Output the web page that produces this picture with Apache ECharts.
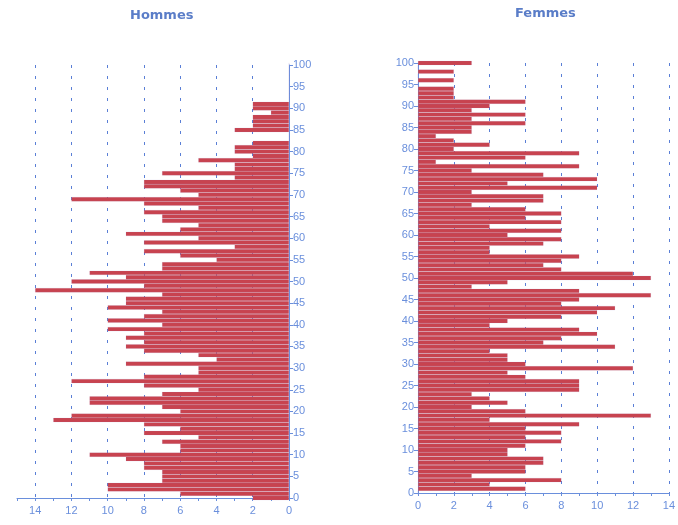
<!DOCTYPE html>
<html><head><meta charset="utf-8">
<script src="https://cdn.jsdelivr.net/npm/echarts@6/dist/echarts.min.js"></script>
<style>html,body{margin:0;padding:0;background:#fff}#c{width:678px;height:525px}</style>
</head><body><div id="c"></div>
<script>
// Age categories 0..100
const ages = Array.from({length: 101}, (_, i) => String(i));

// Hommes, ages 0..100
const hommes = [
  2, 6, 10, 10, 7, 7, 7, 8, 8, 9,
  11, 6, 6, 7, 5, 8, 6, 8, 13, 12,
  6, 7, 11, 11, 7, 5, 8, 12, 8, 5,
  5, 9, 4, 5, 8, 9, 8, 9, 8, 10,
  7, 10, 8, 7, 10, 9, 9, 7, 14, 8,
  12, 9, 11, 7, 7, 4, 6, 8, 3, 8,
  5, 9, 6, 5, 7, 7, 8, 5, 8, 12,
  5, 6, 8, 8, 3, 7, 3, 3, 5, 2,
  3, 3, 2, 0, 0, 3, 2, 2, 2, 1,
  2, 2, 0, 0, 0, 0, 0, 0, 0, 0,
  0
];

// Femmes, ages 0..100
const femmes = [
  0, 6, 4, 8, 3, 6, 6, 7, 7, 5,
  5, 6, 8, 6, 8, 6, 9, 4, 13, 6,
  3, 5, 4, 3, 9, 9, 9, 6, 5, 12,
  6, 5, 5, 4, 11, 7, 8, 10, 9, 4,
  5, 8, 10, 11, 8, 9, 13, 9, 3, 5,
  13, 12, 8, 7, 8, 9, 4, 4, 7, 8,
  5, 8, 4, 8, 6, 8, 6, 3, 7, 7,
  3, 10, 5, 10, 7, 3, 9, 1, 6, 9,
  2, 4, 2, 1, 3, 3, 6, 3, 6, 3,
  4, 6, 2, 2, 2, 0, 2, 0, 2, 0,
  3
];

const titles = ['Hommes', 'Femmes'];

const blue = '#6a8fdc';
const barColor = '#c8434f';
const labelFont = {color: blue, fontSize: 11, fontFamily: 'Liberation Sans'};

function xAx(grid, max, inverse) {
  return {
    gridIndex: grid, type: 'value', min: 0, max: max, interval: 2, inverse: inverse,
    axisLine: {show: true, lineStyle: {color: blue, width: 1}},
    axisTick: {show: true, length: 3, lineStyle: {color: blue}},
    minorTick: {show: true, splitNumber: 2, length: 3, lineStyle: {color: blue}},
    axisLabel: Object.assign({margin: 7, showMaxLabel: max === 14,
      formatter: v => (v > 14 ? '' : String(v))}, labelFont),
    splitLine: {show: true, showMinLine: false, showMaxLine: max === 14,
      lineStyle: {color: '#5a7fd6', type: [3, 8], width: 1}}
  };
}

function yAx(grid, pos) {
  return {
    gridIndex: grid, type: 'category', data: ages, boundaryGap: false, position: pos,
    axisLine: {show: true, lineStyle: {color: blue, width: 1}},
    axisTick: {show: true, interval: 4, length: 4, lineStyle: {color: blue}},
    axisLabel: Object.assign({interval: 4, margin: 4}, labelFont),
    splitLine: {show: false}
  };
}

const chart = echarts.init(document.getElementById('c'));
chart.setOption({
  animation: false,
  backgroundColor: '#fff',
  title: [
    {text: titles[0], left: 130, top: 9, padding: 0,
     textStyle: {color: '#5a7dc8', fontSize: 13, fontWeight: 'bold', fontFamily: 'DejaVu Sans'}},
    {text: titles[1], left: 515, top: 7, padding: 0,
     textStyle: {color: '#5a7dc8', fontSize: 13, fontWeight: 'bold', fontFamily: 'DejaVu Sans'}}
  ],
  grid: [
    {left: 17, right: 389, top: 65, bottom: 27},
    {left: 418, right: 7, top: 63, bottom: 32}
  ],
  xAxis: [xAx(0, 15, true), xAx(1, 14, false)],
  yAxis: [yAx(0, 'right'), yAx(1, 'left')],
  series: [
    {name: titles[0], type: 'bar', xAxisIndex: 0, yAxisIndex: 0, data: hommes,
     barCategoryGap: '0%', clip: true,
     itemStyle: {color: barColor, borderColor: 'rgba(150,140,200,0.3)', borderWidth: 0.4}},
    {name: titles[1], type: 'bar', xAxisIndex: 1, yAxisIndex: 1, data: femmes,
     barCategoryGap: '0%', clip: false,
     itemStyle: {color: barColor, borderColor: 'rgba(150,140,200,0.3)', borderWidth: 0.4}}
  ]
});
</script>
</body></html>
